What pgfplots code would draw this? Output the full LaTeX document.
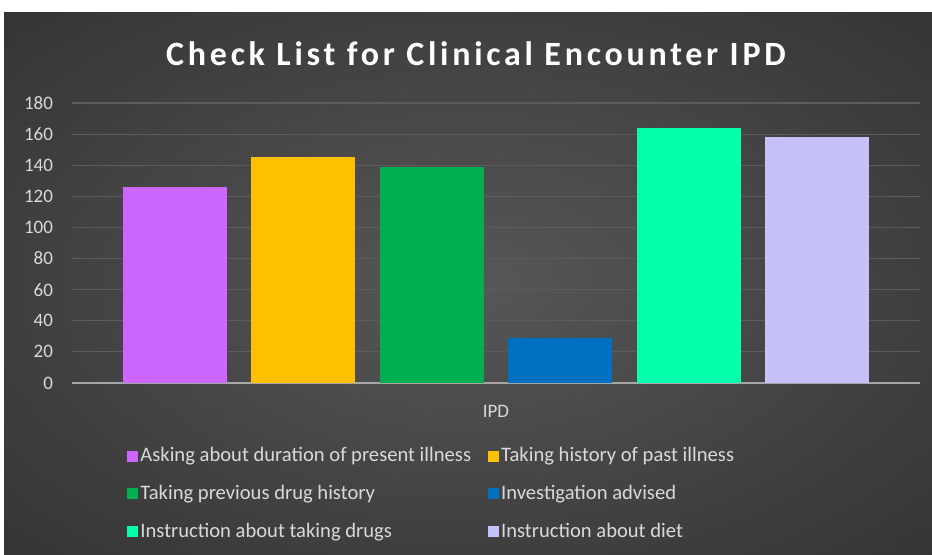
\documentclass[border=0pt]{standalone}
\usepackage{fontspec}
\setmainfont{Carlito}
\newfontfamily\titlefont[LetterSpace=11]{Carlito}
\usepackage{pgfplots}
\pgfplotsset{compat=1.18}
\definecolor{bgin}{HTML}{575757}
\definecolor{bgout}{HTML}{262626}
\definecolor{gridc}{HTML}{5C5C5C}
\definecolor{tickc}{HTML}{D9D9D9}
\definecolor{axc}{HTML}{A6A6A6}
\definecolor{c1}{HTML}{CC66FF}
\definecolor{c2}{HTML}{FFC000}
\definecolor{c3}{HTML}{00B050}
\definecolor{c4}{HTML}{0070C0}
\definecolor{c5}{HTML}{06FFAD}
\definecolor{c6}{HTML}{C4C2F8}
\pgfdeclareradialshading{bgshade}{\pgfpointorigin}{color(0bp)=(bgin); color(50bp)=(bgout)}
\begin{document}
\begin{tikzpicture}
\path[use as bounding box, fill=white] (0,0) rectangle (466pt,277.5pt);
\path[shading=bgshade] (2pt,0) rectangle (466pt,271pt);
\node[font=\titlefont\bfseries\fontsize{17}{20}\selectfont, text=white] at (238pt,250.5pt) {Check List for Clinical Encounter IPD};
\begin{axis}[
  at={(36pt,86pt)}, anchor=south west, scale only axis,
  width=424pt, height=140pt,
  ybar=12.25pt, bar width=52pt,
  xmin=-1, xmax=1, ymin=0, ymax=180,
  ytick={0,20,...,180}, xtick={0}, xticklabels={IPD},
  axis x line*=bottom, axis y line*=left,
  x axis line style={draw=axc, line width=1pt, -},
  y axis line style={draw=none},
  tick style={draw=none},
  ymajorgrids, major grid style={draw=gridc, line width=0.6pt},
  ticklabel style={font=\fontsize{9.5}{11}\selectfont, text=tickc},
  /pgf/number format/assume math mode=true,
  yticklabel style={xshift=-6pt},
  xticklabel style={yshift=-3.5pt},
  legend style={at={(0.0578,-0.207)}, anchor=north west, draw=none, fill=none,
    font=\fontsize{10.3}{12}\selectfont, text=tickc,
    nodes={inner sep=1pt}, row sep=8.3pt,
    /tikz/every even column/.append style={column sep=7.5pt}},
  legend columns=2, legend cell align=left,
  legend image code/.code={\fill[#1] (0pt,-2.75pt) rectangle (5.5pt,2.75pt);},
]
\addplot[fill=c1, draw=none] coordinates {(0,126)};
\addlegendentry{Asking about duration of present illness}
\addplot[fill=c2, draw=none] coordinates {(0,145)};
\addlegendentry{Taking history of past illness}
\addplot[fill=c3, draw=none] coordinates {(0,139)};
\addlegendentry{Taking previous drug history}
\addplot[fill=c4, draw=none] coordinates {(0,29)};
\addlegendentry{Investigation advised}
\addplot[fill=c5, draw=none] coordinates {(0,164)};
\addlegendentry{Instruction about taking drugs}
\addplot[fill=c6, draw=none] coordinates {(0,158)};
\addlegendentry{Instruction about diet}
\end{axis}
\end{tikzpicture}
\end{document}
